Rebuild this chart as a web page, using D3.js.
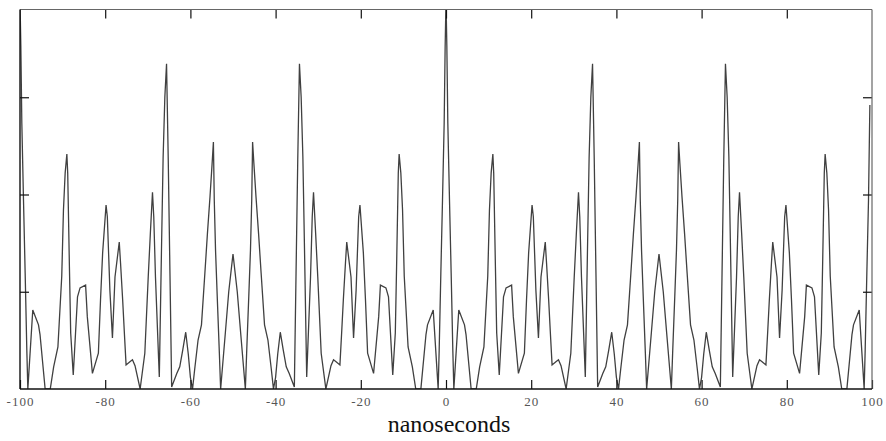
<!DOCTYPE html>
<html>
<head>
<meta charset="utf-8">
<script src="https://cdn.jsdelivr.net/npm/d3@7"></script>
<style>
  html, body { margin: 0; padding: 0; background: #fff; }
  svg { display: block; }
</style>
</head>
<body>
<svg id="chart" width="886" height="441"></svg>
<script>
// Time (ns) of each vertex of the trace
const times = [
  -100,-99.8,-99.57,-99.18,-98.79,-98.4,-98.16,-97,-95.66,-95.3,-94.1,-92.9,-92.1,-91.1,-90.2,-89.8,-89.4,-89.0,-88.8,-88.4,-88.1,-87.5,-86.5,-85.9,-84.6,-84.2,-83.0,-81.6,-81.1,-80.6,-79.8,-79.5,-78.9,-78.3,-77.7,-76.7,-76.4,-75.9,-75.5,-75.1,-74.2,-73.6,-73.0,-71.8,-70.7,-69.9,-69.4,-68.9,-68.6,-68.2,-67.3,-66.8,-66.4,-66.0,-65.6,-65.2,-64.8,-64.4,-63.2,-62.5,-61.8,-61.1,-60.5,-60.0,-59.5,-59.0,-58.2,-57.4,-56.6,-56.0,-55.4,-54.9,-54.6,-54.4,-54.1,-53.7,-53.2,-52.9,-51.8,-51.0,-50.0,
  -49.0,-48.2,-47.1,-46.8,-46.3,-45.9,-45.6,-45.4,-45.1,-44.6,-44.0,-43.4,-42.6,-41.8,-41.0,-40.5,-40.0,-39.5,-38.9,-38.2,-37.5,-36.8,-35.6,-35.2,-34.8,-34.4,-34.0,-33.6,-33.2,-32.7,-31.8,-31.4,-31.1,-30.6,-30.1,-29.3,-28.2,-27.0,-26.4,-25.8,-24.9,-24.5,-24.1,-23.6,-23.3,-22.3,-21.7,-21.1,-20.5,-20.2,-19.4,-18.9,-18.4,-17.0,-15.8,-15.4,-14.1,-13.5,-12.5,-11.9,-11.6,-11.2,-11.0,-10.6,-10.2,-9.8,-8.9,-7.9,-7.1,-5.9,-4.7,-4.34,-3.0,-1.84,-1.6,-1.21,-0.82,-0.43,-0.2,
  0,0.2,0.43,0.82,1.21,1.6,1.84,3.0,4.34,4.7,5.9,7.1,7.9,8.9,9.8,10.2,10.6,11.0,11.2,11.6,11.9,12.5,13.5,14.1,15.4,15.8,17.0,18.4,18.9,19.4,20.2,20.5,21.1,21.7,22.3,23.3,23.6,24.1,24.5,24.9,25.8,26.4,27.0,28.2,29.3,30.1,30.6,31.1,31.4,31.8,32.7,33.2,33.6,34.0,34.4,34.8,35.2,35.6,36.8,37.5,38.2,38.9,39.5,40.0,40.5,41.0,41.8,42.6,43.4,44.0,44.6,45.1,45.4,45.6,45.9,46.3,46.8,47.1,48.2,49.0,50.0,
  51.0,51.8,52.9,53.2,53.7,54.1,54.4,54.6,54.9,55.4,56.0,56.6,57.4,58.2,59.0,59.5,60.0,60.5,61.1,61.8,62.5,63.2,64.4,64.8,65.2,65.6,66.0,66.4,66.8,67.3,68.2,68.6,68.9,69.4,69.9,70.7,71.8,73.0,73.6,74.2,75.1,75.5,75.9,76.4,76.7,77.7,78.3,78.9,79.5,79.8,80.6,81.1,81.6,83.0,84.2,84.6,85.9,86.5,87.5,88.1,88.4,88.8,89.0,89.4,89.8,90.2,91.1,92.1,92.9,94.1,95.3,95.66,97.0,98.16,98.4,98.79,99.18,99.5
];
// Trace amplitude at each vertex (1 = top tick level)
const amplitudes = [
  1.0,0.88,0.683,0.486,0.298,0.1,0,0.203,0.165,0.14,0,0,0.057,0.108,0.29,0.46,0.555,0.604,0.555,0.314,0.144,0.036,0.237,0.26,0.267,0.186,0.04,0.092,0.229,0.35,0.473,0.443,0.254,0.131,0.288,0.378,0.324,0.229,0.144,0.062,0.07,0.075,0.06,0,0.092,0.288,0.4,0.506,0.443,0.288,0.031,0.35,0.597,0.75,0.836,0.589,0.298,0.005,0.04,0.057,0.1,0.146,0.09,0.03,0,0.05,0.126,0.165,0.298,0.4,0.494,0.58,0.635,0.487,0.357,0.237,0.092,0,0.144,0.25,0.347,
  0.25,0.144,0,0.092,0.237,0.357,0.487,0.635,0.58,0.494,0.4,0.298,0.165,0.126,0.05,0,0.03,0.09,0.146,0.1,0.057,0.04,0.005,0.298,0.589,0.836,0.75,0.597,0.35,0.031,0.288,0.443,0.506,0.4,0.288,0.092,0,0.06,0.075,0.07,0.062,0.144,0.229,0.324,0.378,0.288,0.131,0.254,0.443,0.473,0.35,0.229,0.092,0.04,0.186,0.267,0.26,0.237,0.036,0.144,0.314,0.555,0.604,0.555,0.46,0.29,0.108,0.057,0,0,0.14,0.165,0.203,0,0.1,0.298,0.486,0.683,0.88,
  1.0,0.88,0.683,0.486,0.298,0.1,0,0.203,0.165,0.14,0,0,0.057,0.108,0.29,0.46,0.555,0.604,0.555,0.314,0.144,0.036,0.237,0.26,0.267,0.186,0.04,0.092,0.229,0.35,0.473,0.443,0.254,0.131,0.288,0.378,0.324,0.229,0.144,0.062,0.07,0.075,0.06,0,0.092,0.288,0.4,0.506,0.443,0.288,0.031,0.35,0.597,0.75,0.836,0.589,0.298,0.005,0.04,0.057,0.1,0.146,0.09,0.03,0,0.05,0.126,0.165,0.298,0.4,0.494,0.58,0.635,0.487,0.357,0.237,0.092,0,0.144,0.25,0.347,
  0.25,0.144,0,0.092,0.237,0.357,0.487,0.635,0.58,0.494,0.4,0.298,0.165,0.126,0.05,0,0.03,0.09,0.146,0.1,0.057,0.04,0.005,0.298,0.589,0.836,0.75,0.597,0.35,0.031,0.288,0.443,0.506,0.4,0.288,0.092,0,0.06,0.075,0.07,0.062,0.144,0.229,0.324,0.378,0.288,0.131,0.254,0.443,0.473,0.35,0.229,0.092,0.04,0.186,0.267,0.26,0.237,0.036,0.144,0.314,0.555,0.604,0.555,0.46,0.29,0.108,0.057,0,0,0.14,0.165,0.203,0,0.1,0.298,0.486,0.73
];
const xTickValues = [-100,-80,-60,-40,-20,0,20,40,60,80,100];
const yTickValues = [0.25,0.5,0.75];
const xLabel = "nanoseconds";

const svg = d3.select("#chart");
const plotLeft = 20, plotRight = 872, plotTop = 9.5, plotBottom = 389;

const x = d3.scaleLinear().domain([-100, 100]).range([plotLeft, plotRight]);
const y = d3.scaleLinear().domain([0, 1]).range([plotBottom, 0]);

const data = times.map((t, i) => ({t, v: amplitudes[i]}));

svg.append("defs").append("clipPath").attr("id", "plotclip")
  .append("rect").attr("x", plotLeft).attr("y", plotTop)
  .attr("width", plotRight - plotLeft).attr("height", plotBottom - plotTop);

// trace
svg.append("path")
  .datum(data)
  .attr("clip-path", "url(#plotclip)")
  .attr("fill", "none")
  .attr("stroke", "#404040")
  .attr("stroke-width", 1.3)
  .attr("stroke-linejoin", "miter")
  .attr("d", d3.line().x(d => x(d.t)).y(d => y(d.v)));

// ticks
const tickStyle = g => {
  g.select(".domain").remove();
  g.selectAll(".tick line").attr("stroke", "#111").attr("stroke-width", 1.2);
};
svg.append("g").attr("transform", `translate(0,${plotBottom})`)
  .call(d3.axisBottom(x).tickValues(xTickValues).tickSize(-9).tickPadding(8)
    .tickFormat(d => String(d)))
  .call(tickStyle)
  .call(g => g.attr("font-family", "'Liberation Serif', 'Times New Roman', serif").attr("font-size", 13))
  .call(g => g.selectAll(".tick text")
    .attr("fill", "#555").attr("letter-spacing", "1px"));
svg.append("g").attr("transform", `translate(0,${plotTop})`)
  .call(d3.axisTop(x).tickValues(xTickValues.slice(1, -1)).tickSize(-9).tickFormat(""))
  .call(tickStyle);
svg.append("g").attr("transform", `translate(${plotLeft},0)`)
  .call(d3.axisLeft(y).tickValues(yTickValues).tickSize(-9).tickFormat(""))
  .call(tickStyle);
svg.append("g").attr("transform", `translate(${plotRight},0)`)
  .call(d3.axisRight(y).tickValues(yTickValues).tickSize(-9).tickFormat(""))
  .call(tickStyle);

// frame
svg.append("line").attr("x1", plotLeft).attr("x2", plotRight).attr("y1", plotTop).attr("y2", plotTop)
  .attr("stroke", "#666").attr("stroke-width", 1.2);
svg.append("line").attr("x1", plotRight).attr("x2", plotRight).attr("y1", plotTop).attr("y2", plotBottom)
  .attr("stroke", "#666").attr("stroke-width", 1.2);
svg.append("line").attr("x1", plotLeft).attr("x2", plotLeft).attr("y1", plotTop).attr("y2", plotBottom)
  .attr("stroke", "#111").attr("stroke-width", 1.4);
svg.append("line").attr("x1", plotLeft).attr("x2", plotRight).attr("y1", plotBottom).attr("y2", plotBottom)
  .attr("stroke", "#111").attr("stroke-width", 1.6);

// axis title
svg.append("text")
  .attr("x", 449).attr("y", 432)
  .attr("text-anchor", "middle")
  .attr("font-family", "'Liberation Serif', 'Times New Roman', serif")
  .attr("font-size", 24)
  .attr("fill", "#111")
  .text(xLabel);
</script>
</body>
</html>
